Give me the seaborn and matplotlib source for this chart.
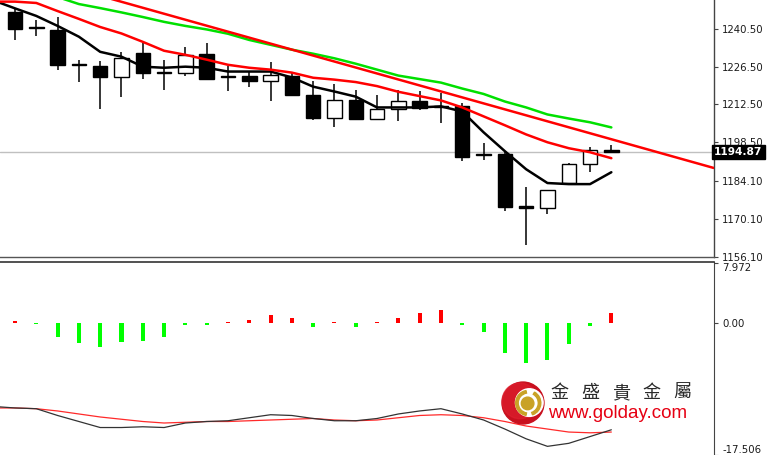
import numpy as np
import pandas as pd
import matplotlib
matplotlib.use("Agg")
import matplotlib.pyplot as plt
from matplotlib.patches import Circle, Wedge
import seaborn as sns

# ---------------- data ----------------
idx = list(range(29))
opens = [1246.9, 1241.2, 1240.1, 1227.3, 1226.9, 1222.6, 1231.5, 1224.2, 1224.2, 1231.3,
         1222.8, 1223.2, 1221.3, 1223.2, 1215.9, 1207.6, 1214.0, 1207.2, 1211.0, 1213.7,
         1211.7, 1212.1, 1194.0, 1194.3, 1174.9, 1174.1, 1183.3, 1190.4, 1195.7]
closes = [1240.4, 1241.0, 1227.2, 1227.0, 1222.6, 1229.9, 1224.3, 1224.6, 1230.9, 1222.1,
          1222.6, 1221.3, 1223.4, 1215.9, 1207.6, 1214.3, 1207.2, 1210.7, 1213.7, 1211.3,
          1211.5, 1193.2, 1193.8, 1174.7, 1174.3, 1180.9, 1190.4, 1195.7, 1194.9]
highs = [1248.2, 1243.8, 1244.8, 1229.1, 1228.7, 1232.1, 1235.2, 1229.1, 1233.8, 1235.2,
         1226.6, 1224.8, 1228.2, 1224.2, 1221.1, 1220.1, 1217.7, 1215.9, 1217.7, 1217.4,
         1216.8, 1212.9, 1198.4, 1194.9, 1181.8, 1181.0, 1190.8, 1196.8, 1197.5]
lows = [1236.2, 1237.9, 1225.4, 1220.9, 1211.0, 1215.3, 1222.0, 1217.8, 1222.9, 1222.0,
        1217.4, 1219.0, 1213.7, 1215.6, 1206.7, 1204.3, 1206.7, 1207.0, 1206.3, 1210.4,
        1205.5, 1191.4, 1192.0, 1173.2, 1160.3, 1172.0, 1183.2, 1187.6, 1194.6]

ma_idx = list(range(-1, 29))
ma_fast = [1251.0, 1248.1, 1245.3, 1241.6, 1237.6, 1232.0, 1230.2, 1226.5, 1226.1, 1226.5,
           1226.1, 1224.7, 1224.7, 1224.7, 1222.5, 1219.1, 1217.3, 1215.4, 1211.4, 1211.4,
           1211.4, 1211.8, 1209.9, 1202.2, 1195.2, 1188.5, 1183.4, 1183.0, 1183.0, 1187.4]
ma_mid = [1250.6, 1250.6, 1250.1, 1247.1, 1244.2, 1241.2, 1238.8, 1235.7, 1232.4, 1230.9,
          1229.1, 1227.2, 1226.1, 1225.4, 1224.3, 1222.4, 1221.7, 1220.8, 1219.3, 1217.2,
          1215.6, 1214.0, 1211.4, 1208.1, 1204.8, 1201.4, 1198.5, 1196.3, 1194.8, 1192.6]
green_idx = list(range(2, 29))
ma_slow = [1252.3, 1249.7, 1248.2, 1246.6, 1244.9, 1243.1, 1241.6, 1240.3, 1238.7, 1236.4,
           1234.6, 1232.8, 1231.3, 1229.6, 1227.6, 1225.4, 1223.2, 1221.9, 1220.6, 1218.4,
           1216.4, 1213.6, 1211.4, 1208.8, 1207.3, 1205.9, 1204.0]
trend_x = [4.0, 32.8]
trend_y = [1252.75, 1189.0]
last_price = 1194.87

price_ticks = [1240.50, 1226.50, 1212.50, 1198.50, 1184.10, 1170.10, 1156.10]

hist = [0.2, -0.2, -1.9, -2.65, -3.2, -2.5, -2.35, -1.9, -0.3, -0.3,
        0.15, 0.45, 1.1, 0.6, -0.55, 0.15, -0.6, 0.15, 0.65, 1.3,
        1.75, -0.3, -1.25, -4.0, -5.3, -4.95, -2.75, -0.45, 1.3]
osc_black = [-11.1, -11.3, -11.4, -12.3, -13.1, -13.9, -13.9, -13.8, -13.9, -13.3,
             -13.1, -13.0, -12.6, -12.2, -12.3, -12.7, -13.0, -13.0, -12.7, -12.1,
             -11.7, -11.4, -12.1, -12.9, -14.1, -15.4, -16.4, -16.0, -15.1, -14.2]
osc_red = [-11.3, -11.3, -11.4, -11.7, -12.1, -12.5, -12.8, -13.1, -13.3, -13.2,
           -13.1, -13.1, -13.0, -12.9, -12.8, -12.7, -12.9, -13.0, -12.9, -12.6,
           -12.3, -12.2, -12.3, -12.6, -13.1, -13.7, -14.1, -14.5, -14.6, -14.5]
osc_ticks = [7.972, 0.00, -17.506]
osc_labels = ["7.972", "0.00", "-17.506"]

logo_cn = ["金", "盛", "貴", "金", "屬"]
logo_url = "www.golday.com"

# ---------------- style ----------------
sns.set_style("white")
plt.rcParams['font.family'] = ['DejaVu Sans']

W, H = 769, 455
fig = plt.figure(figsize=(W / 100, H / 100), dpi=100)
fig.patch.set_facecolor("white")

axw = 714 / W
ax1 = fig.add_axes([0, (H - 257) / H, axw, 257 / H])
ax2 = fig.add_axes([0, 0, axw, (H - 262) / H])

XL = (-0.704, 32.82)

# ---------------- price panel ----------------
df = pd.DataFrame({"i": idx, "o": opens, "c": closes, "h": highs, "l": lows})
ax1.axhline(last_price, color="#c0c0c0", lw=1, zorder=1)
ax1.vlines(df["i"], df["l"], df["h"], color="black", lw=1.1, zorder=2)
bull = df["c"] >= df["o"]
body_lo = np.minimum(df["o"], df["c"])
body_h = np.maximum(np.abs(df["c"] - df["o"]), 0.35)
ax1.bar(df["i"], body_h, bottom=body_lo, width=0.68,
        color=np.where(bull, "white", "black"), edgecolor="black", lw=1.0, zorder=3)

sns.lineplot(x=ma_idx, y=ma_fast, ax=ax1, color="black", lw=1.8, zorder=4)
sns.lineplot(x=ma_idx, y=ma_mid, ax=ax1, color="#ff0000", lw=1.8, zorder=4)
sns.lineplot(x=green_idx, y=ma_slow, ax=ax1, color="#00e000", lw=1.8, zorder=4)
sns.lineplot(x=trend_x, y=trend_y, ax=ax1, color="#ff0000", lw=1.8, zorder=4)

ax1.set_xlim(*XL)
ax1.set_ylim(1156.0, 1251.2)
ax1.set_xticks([])
ax1.yaxis.tick_right()
ax1.set_yticks(price_ticks)
ax1.set_yticklabels([f"{v:.2f}" for v in price_ticks])
ax1.tick_params(axis="y", which="both", right=True, length=3, width=0.8,
                color="#444444", labelsize=7.3, pad=3, labelcolor="#1a1a1a")
for s in ["top", "left"]:
    ax1.spines[s].set_visible(False)
ax1.spines["right"].set_color("#444444")
ax1.spines["right"].set_linewidth(1)
ax1.spines["bottom"].set_color("#555555")
ax1.spines["bottom"].set_linewidth(1)
ax1.set_xlabel("")
ax1.set_ylabel("")

ax1.text(1.0, last_price, f"{last_price:.2f}", transform=ax1.get_yaxis_transform(),
         ha="left", va="center", fontsize=7.7, fontweight="bold", color="white",
         zorder=10, clip_on=False,
         bbox=dict(boxstyle="square,pad=0.2", facecolor="black", edgecolor="black"))

# ---------------- oscillator panel ----------------
hcol = ["#ff0000" if v > 0 else "#00ff00" for v in hist]
ax2.bar(idx, hist, width=0.19, color=hcol, lw=0, zorder=2)
sns.lineplot(x=ma_idx, y=osc_red, ax=ax2, color="#ff2a2a", lw=0.9, zorder=3)
sns.lineplot(x=ma_idx, y=osc_black, ax=ax2, color="#333333", lw=0.9, zorder=3)

ax2.set_xlim(*XL)
ax2.set_ylim(-17.55, 8.09)
ax2.set_xticks([])
ax2.yaxis.tick_right()
ax2.set_yticks(osc_ticks)
ax2.set_yticklabels(osc_labels)
ax2.tick_params(axis="y", which="both", right=True, length=3, width=0.8,
                color="#444444", labelsize=7.3, pad=3, labelcolor="#1a1a1a")
labs = ax2.get_yticklabels()
labs[0].set_va("top")
labs[2].set_va("bottom")
for s in ["left", "bottom"]:
    ax2.spines[s].set_visible(False)
ax2.spines["right"].set_color("#444444")
ax2.spines["top"].set_color("#333333")
ax2.spines["top"].set_linewidth(1.2)
ax2.set_xlabel("")
ax2.set_ylabel("")

# ---------------- logo ----------------
lax = fig.add_axes([501 / W, (H - 425) / H, 44 / W, 44 / H])
lax.set_xlim(-1.05, 1.05)
lax.set_ylim(-1.05, 1.05)
lax.set_aspect("equal")
lax.axis("off")
lax.add_patch(Circle((0, 0), 1.0, color="#c8101e"))
lax.add_patch(Circle((-0.15, 0.1), 0.85, color="#e02030", alpha=0.6))
lax.add_patch(Circle((0.3, 0.02), 0.66, color="white"))
lax.add_patch(Wedge((0.25, 0.0), 0.6, 100, 260, width=0.12, color="#c9a227"))
lax.add_patch(Wedge((0.25, 0.0), 0.6, -70, 60, width=0.12, color="#c9a227"))
lax.add_patch(Circle((0.22, -0.02), 0.3, color="#c9a227"))

for k, ch in enumerate(logo_cn):
    fig.text((559 + 30.8 * k) / W, (H - 393) / H, ch, ha="center", va="center",
             fontsize=13, color="#2a2a2a", family=["Noto Sans CJK TC", "DejaVu Sans"])
fig.text(548 / W, (H - 414) / H, logo_url, ha="left", va="center",
         fontsize=13.5, color="#e60012", family=["Liberation Sans", "DejaVu Sans"])

fig.savefig("out.png", dpi=100, facecolor="white")
